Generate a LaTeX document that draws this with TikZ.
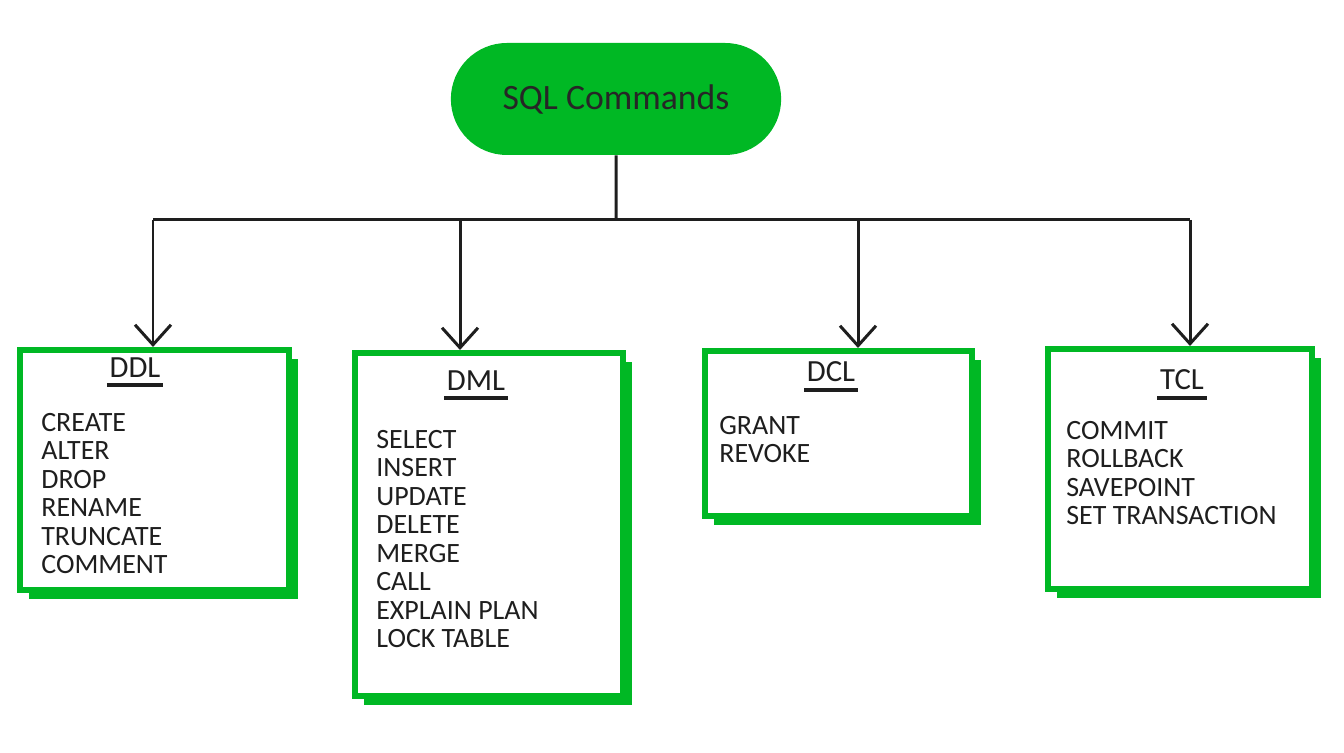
\documentclass[tikz,border=0pt]{standalone}
\usepackage{fontspec}
\setmainfont{Carlito}
\usetikzlibrary{shapes.misc, shadows, arrows.meta}
\definecolor{sqlgreen}{RGB}{0,184,36}
\definecolor{ink}{RGB}{30,30,30}

\begin{document}
\begin{tikzpicture}[
    group/.style={rectangle, draw=sqlgreen, fill=white, line width=0.12cm,
        drop shadow={shadow xshift=0.18cm, shadow yshift=-0.18cm, fill=sqlgreen, opacity=1}},
    heading/.style={anchor=south, inner xsep=0.05cm, inner ysep=0.15cm, text=ink,
        font=\fontsize{17.5}{20}\selectfont},
    items/.style={anchor=north west, inner sep=0, align=left, text=ink,
        font=\fontsize{15.9}{16.2}\selectfont},
    link/.style={draw=ink, line width=1.7pt, -{Straight Barb[length=0.4cm, width=0.72cm]}}]
    \useasboundingbox (0, 0) rectangle (26.88, 15.04);

    \node[rounded rectangle, fill=sqlgreen, minimum width=6.84cm, minimum height=2.24cm,
        text=black!85, font=\fontsize{20.3}{24}\selectfont] (sql) at (12.32, 13.06) {SQL Commands};

    % the four groups
    \node[group, minimum width=5.38cm, minimum height=4.8cm] (ddl) at (3.09, 5.64) {};
    \node[group, minimum width=5.36cm, minimum height=6.86cm] (dml) at (9.78, 4.55) {};
    \node[group, minimum width=5.34cm, minimum height=3.3cm] (dcl) at (16.77, 6.37) {};
    \node[group, minimum width=5.28cm, minimum height=4.8cm] (tcl) at (23.6, 5.66) {};

    \node[heading] (ddl-title) at (2.70, 7.34) {DDL};
    \node[heading] (dml-title) at (9.52, 7.08) {DML};
    \node[heading] (dcl-title) at (16.62, 7.24) {DCL};
    \node[heading] (tcl-title) at (23.64, 7.08) {TCL};

    \node[items] (ddl-list) at (0.82, 6.78) {CREATE\\ALTER\\DROP\\RENAME\\TRUNCATE\\COMMENT};
    \node[items] (dml-list) at (7.52, 6.44) {SELECT\\INSERT\\UPDATE\\DELETE\\MERGE\\CALL\\EXPLAIN PLAN\\LOCK TABLE};
    \node[items] (dcl-list) at (14.38, 6.72) {GRANT\\REVOKE};
    \node[items] (tcl-list) at (21.32, 6.62) {COMMIT\\ROLLBACK\\SAVEPOINT\\SET TRANSACTION};

    \foreach \g in {ddl, dml, dcl, tcl}
        \draw[ink, line width=2.1pt] (\g-title.south west) -- (\g-title.south east);

    % branching lines
    \coordinate (b-ddl) at (3.06, 10.64);
    \coordinate (b-dml) at (9.2, 10.64);
    \coordinate (b-dcl) at (17.16, 10.64);
    \coordinate (b-tcl) at (23.8, 10.64);

    \draw[ink, line width=1.7pt] (sql) -- (sql |- b-ddl);
    \draw[ink, line width=1.7pt] (b-ddl) -- (b-tcl);
    \foreach \g in {ddl, dml, dcl, tcl}
        \draw[link] (b-\g) -- (b-\g |- \g.north);
\end{tikzpicture}
\end{document}
